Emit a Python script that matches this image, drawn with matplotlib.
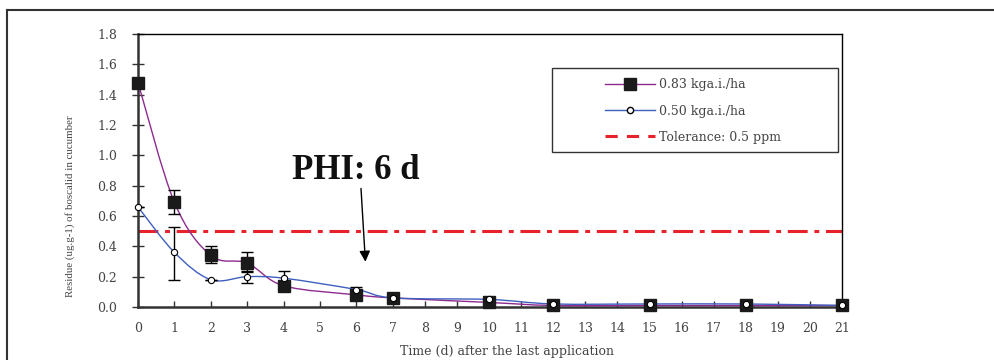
import numpy as np
import matplotlib.pyplot as plt
from matplotlib.path import Path
from matplotlib.patches import PathPatch, Rectangle
from matplotlib.lines import Line2D

days = [0, 1, 2, 3, 4, 6, 7, 10, 12, 15, 18, 21]
high_dose = [1.48, 0.69, 0.34, 0.29, 0.14, 0.08, 0.06, 0.03, 0.01, 0.01, 0.01, 0.01]
high_lo = [1.48, 0.61, 0.29, 0.24, 0.14, 0.08, 0.06, 0.03, 0.01, 0.01, 0.01, 0.01]
high_hi = [1.48, 0.77, 0.40, 0.36, 0.14, 0.08, 0.06, 0.03, 0.01, 0.01, 0.01, 0.01]
low_dose = [0.66, 0.36, 0.18, 0.20, 0.19, 0.115, 0.06, 0.05, 0.02, 0.02, 0.02, 0.01]
low_lo = [0.66, 0.18, 0.18, 0.16, 0.11, 0.10, 0.06, 0.04, 0.02, 0.02, 0.02, 0.01]
low_hi = [0.66, 0.53, 0.18, 0.23, 0.24, 0.13, 0.06, 0.06, 0.02, 0.02, 0.02, 0.01]
tolerance = 0.5
labels = ["0.83 kga.i./ha", "0.50 kga.i./ha", "Tolerance: 0.5 ppm"]

serif = "DejaVu Serif"
times = "Liberation Serif"
grey = "#444444"

# the original category axis is a bit stretched for days 0-7
kx = [-50, 0, 7, 21, 71]
ky = [-50 * 1.135, 0, 7 * 1.135, 7 * 1.135 + 14, 7 * 1.135 + 64]
fwd = lambda v: np.interp(v, kx, ky)
inv = lambda v: np.interp(v, ky, kx)


def smooth_path(xs, ys):
    # excel-like smoothed line: cubic bezier through the points
    pts = np.column_stack([fwd(np.array(xs, float)), ys])
    verts = [pts[0]]
    codes = [Path.MOVETO]
    n = len(pts)
    for i in range(n - 1):
        p0 = pts[max(i - 1, 0)]
        p1, p2 = pts[i], pts[i + 1]
        p3 = pts[min(i + 2, n - 1)]
        c1 = p1 + (p2 - p0) / 6
        c2 = p2 - (p3 - p1) / 6
        verts += [c1, c2, p2]
        codes += [Path.CURVE4] * 3
    verts = np.array(verts)
    verts[:, 0] = inv(verts[:, 0])
    return Path(verts, codes)


fig = plt.figure(figsize=(9.95, 3.6), dpi=100)
ax = fig.add_axes([138 / 995, 1 - 307 / 360, 704 / 995, 273 / 360])
ax.set_xscale("function", functions=(fwd, inv))

purple = "#8e2a8e"
blue = "#3f5fbf"
red = "#e8222a"
tol_dash = (6.5, 2.2, 1.6, 2.2)

ax.plot([0, 21], [tolerance, tolerance], color=red, lw=2.2,
        dashes=tol_dash, zorder=2)

ax.add_patch(PathPatch(smooth_path(days, high_dose), fill=False,
                       edgecolor=purple, lw=1.0, zorder=3))
ax.add_patch(PathPatch(smooth_path(days, low_dose), fill=False,
                       edgecolor=blue, lw=1.0, zorder=3))

hd = np.array(high_dose)
ld = np.array(low_dose)
ax.errorbar(days, hd, yerr=[hd - np.array(high_lo), np.array(high_hi) - hd],
            fmt="none", ecolor="black", elinewidth=1, capsize=4, zorder=4)
ax.errorbar(days, ld, yerr=[ld - np.array(low_lo), np.array(low_hi) - ld],
            fmt="none", ecolor="black", elinewidth=1, capsize=4, zorder=4)
ax.plot(days, high_dose, ls="none", marker="s", ms=8, color="#1a1a1a",
        zorder=5, clip_on=False)
ax.plot(days, low_dose, ls="none", marker="o", ms=4.5, mfc="white",
        mec="black", mew=0.8, zorder=6, clip_on=False)

ax.set_xlim(0, 21)
ax.set_ylim(0, 1.8)
ax.set_xticks(range(22))
ax.set_yticks(np.arange(0, 1.81, 0.2))
ax.set_yticklabels([f"{v:.1f}" for v in np.arange(0, 1.81, 0.2)])
ax.tick_params(axis="x", direction="in", length=4, width=1, colors="#333333",
               labelcolor=grey, labelsize=9, pad=11)
ax.tick_params(axis="y", direction="inout", length=8, width=1, colors="#333333",
               labelcolor=grey, labelsize=9, pad=11)
for t in ax.get_xticklabels() + ax.get_yticklabels():
    t.set_fontfamily(serif)
for s in ["left", "bottom"]:
    ax.spines[s].set_linewidth(1.8)
    ax.spines[s].set_color("#333333")
for s in ["top", "right"]:
    ax.spines[s].set_linewidth(1.0)

ax.set_xlabel("Time (d) after the last application", fontfamily=serif,
              fontsize=9, color=grey)
ax.xaxis.set_label_coords((507 - 138) / 704, -(351 - 307) / 273)
ax.xaxis.label.set_va("center")
ax.set_ylabel("Residue (ug.g-1) of boscalid in cucumber", fontfamily=times,
              fontsize=7.8, color=grey)
ax.yaxis.set_label_coords((70 - 138) / 704, (307 - 206) / 273)
ax.yaxis.label.set_va("center")

ax.text(5.97, 0.9, "PHI: 6 d", fontfamily=times, fontweight="bold",
        fontsize=25, ha="center", va="center", color="#111111")
ax.annotate("", xy=(6.25, 0.28), xytext=(6.12, 0.80),
            arrowprops=dict(arrowstyle="-|>", color="black", lw=1.0,
                            mutation_scale=16))

# legend frame drawn separately, entries start further in
ax.add_patch(Rectangle(((552 - 138) / 704, (307 - 152) / 273), (838 - 552) / 704,
                       (152 - 68) / 273, transform=ax.transAxes, fill=True,
                       facecolor="white", edgecolor="#333333", lw=1.0, zorder=7))
handles = [
    Line2D([], [], color=purple, lw=1, marker="s", ms=8, mfc="#1a1a1a", mec="#1a1a1a"),
    Line2D([], [], color=blue, lw=1, marker="o", ms=4.5, mfc="white", mec="black"),
    Line2D([], [], color=red, lw=2.2, dashes=(4, 3)),
]
leg = ax.legend(handles, labels, loc="center left",
                bbox_to_anchor=((605 - 138) / 704, (307 - 111) / 273),
                prop={"family": serif, "size": 9}, frameon=False,
                handlelength=4.0, labelspacing=1.05, borderpad=0,
                handletextpad=0.3, borderaxespad=0)
leg.set_zorder(8)
for t in leg.get_texts():
    t.set_color(grey)

# outer frame of the slide
fig.add_artist(Line2D([7 / 995, 7 / 995], [0, 1 - 10 / 360], color="#333333", lw=1.5))
fig.add_artist(Line2D([7 / 995, 1], [1 - 10 / 360, 1 - 10 / 360], color="#333333", lw=1.5))

fig.savefig("out.png", dpi=100)
